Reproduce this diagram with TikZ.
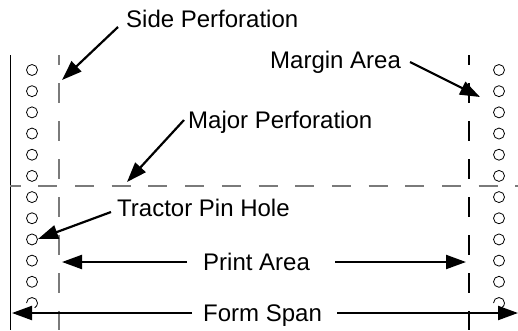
\documentclass[tikz,border=0pt]{standalone}
\usepackage{fontspec}
\setmainfont{Liberation Sans}
\usetikzlibrary{arrows.meta}
\definecolor{perfgray}{HTML}{7A7A7A}
\begin{document}
\begin{tikzpicture}[x=1pt,y=-1pt,
  lbl/.style={anchor=base west,inner sep=0pt,font=\fontsize{24}{28}\selectfont},
  hole/.style={draw=black,line width=0.8pt},
  edge/.style={draw=black,line width=1pt},
  vperf/.style={line width=1.1pt,dash pattern=on 20pt off 18pt,dash phase=10pt},
  hperf/.style={draw=perfgray,line width=1.1pt,dash pattern=on 19pt off 17.7pt,dash phase=8.4pt},
  pointer/.style={draw=black,line width=2.2pt,-{Triangle[length=20pt,width=14pt]}}
]
\useasboundingbox (0,0) rectangle (518,330);
% paper edge
\coordinate (edgetop) at (10,55);
\coordinate (edgebot) at (10,330);
\draw[edge] (edgetop) -- (edgebot);
% side perforations
\coordinate (lptop) at (59,55);
\coordinate (lpbot) at (59,330);
\coordinate (rptop) at (469,55);
\coordinate (rpbot) at (469,330);
\draw[vperf,draw=perfgray] (lptop) -- (lpbot);
\draw[vperf,draw=black] (rptop) -- (rpbot);
% major perforation
\coordinate (mpl) at (10,186);
\coordinate (mpr) at (518,186);
\draw[hperf] (mpl) -- (mpr);
% tractor holes
\foreach \k in {0,...,10}{
  \draw[hole] (32,70+21.18*\k) circle[radius=5.5];
  \draw[hole] (499,70+21.18*\k) circle[radius=5.5];
}
\draw[hole] (32,303)+(180:5.5) arc[start angle=180,end angle=420,radius=5.5];
\draw[hole] (499,303)+(180:5.5) arc[start angle=180,end angle=420,radius=5.5];
% labels
\node[lbl] (side) at (126,27) {Side Perforation};
\node[lbl] (margin) at (270,68) {Margin Area};
\node[lbl] (major) at (188,128) {Major Perforation};
\node[lbl] (tractor) at (117,216) {Tractor Pin Hole};
\node[lbl] (print) at (203,270.5) {Print Area};
\node[lbl] (form) at (203,321.5) {Form Span};
% arrow ends
\coordinate (sideS) at (118,27);  \coordinate (sideT) at (62,80);
\coordinate (marS) at (410,62);   \coordinate (marT) at (480,97);
\coordinate (majS) at (184,120);  \coordinate (majT) at (127,182);
\coordinate (traS) at (111,212);  \coordinate (traT) at (38,239);
\coordinate (prLS) at (187,262);  \coordinate (prLT) at (62,262);
\coordinate (prRS) at (335,262);  \coordinate (prRT) at (466,262);
\coordinate (fmLS) at (192,313);  \coordinate (fmLT) at (12,313);
\coordinate (fmRS) at (337,313);  \coordinate (fmRT) at (518,313);
\draw[pointer] (sideS) -- (sideT);
\draw[pointer] (marS) -- (marT);
\draw[pointer] (majS) -- (majT);
\draw[pointer] (traS) -- (traT);
\draw[pointer] (prLS) -- (prLT);
\draw[pointer] (prRS) -- (prRT);
\draw[pointer] (fmLS) -- (fmLT);
\draw[pointer] (fmRS) -- (fmRT);
\end{tikzpicture}
\end{document}
